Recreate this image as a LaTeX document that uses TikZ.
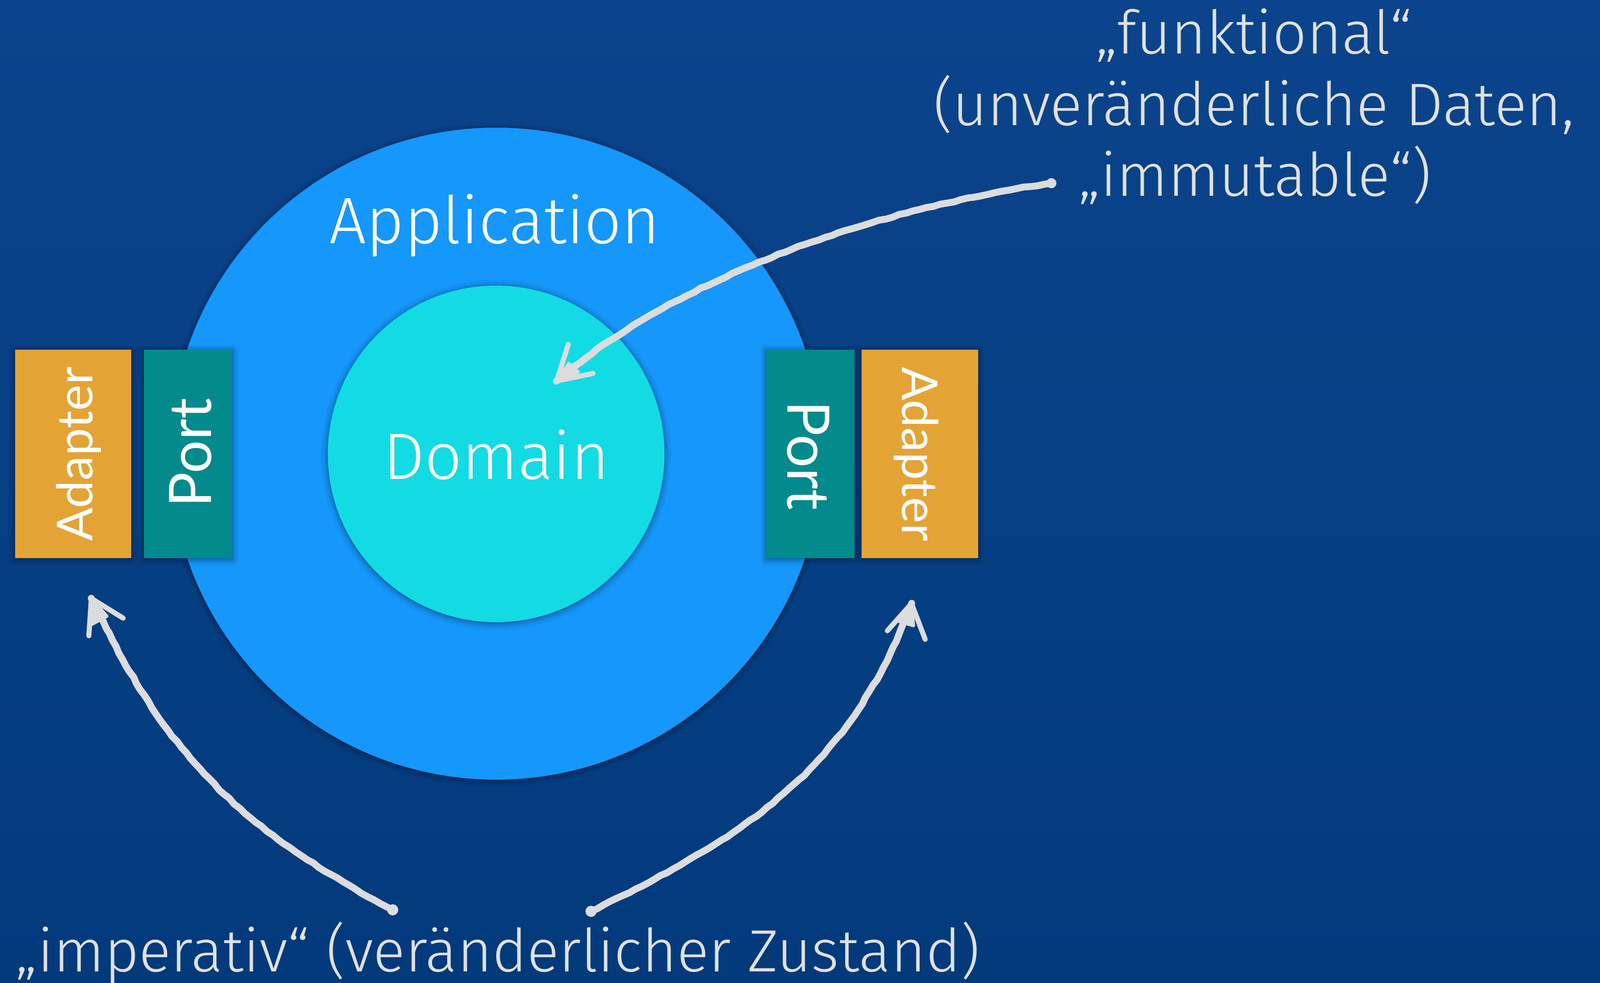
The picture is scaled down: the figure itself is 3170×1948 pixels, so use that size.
\documentclass[tikz,border=0pt]{standalone}
\usepackage{fontspec}
\setmainfont{Fira Sans Light}
\newfontfamily\labelfont{Lato}
\usetikzlibrary{shadows.blur,decorations.pathmorphing}
\definecolor{bgtop}{HTML}{0B448C}
\definecolor{bgbot}{HTML}{023A7C}
\definecolor{appblue}{HTML}{1597FB}
\definecolor{domcyan}{HTML}{13DBE3}
\definecolor{adaptorange}{HTML}{E4A335}
\definecolor{portteal}{HTML}{038A8D}
\definecolor{annogray}{HTML}{E0E0E2}
\definecolor{arrowgray}{HTML}{DCDCDE}
\tikzset{
  softshadow/.style={blur shadow={shadow xshift=0pt, shadow yshift=-1pt, shadow blur radius=6pt, shadow opacity=50}},
  ring/.style={circle, inner sep=0pt, softshadow},
  box/.style={rectangle, inner sep=0pt, minimum height=206.5pt, softshadow},
  whitetext/.style={text=white, inner sep=0pt},
  bigtext/.style={whitetext, font=\fontsize{65pt}{78pt}\selectfont, anchor=base},
  adaptertext/.style={whitetext, font=\labelfont\fontsize{49pt}{59pt}\selectfont, anchor=base},
  porttext/.style={whitetext, font=\labelfont\fontsize{58pt}{70pt}\selectfont, anchor=base},
  annotext/.style={text=annogray, inner sep=0pt, anchor=base, font=\fontsize{59.5pt}{71pt}\selectfont},
  handline/.style={draw=arrowgray, line width=6.8pt, line cap=round, line join=round,
    decorate, decoration={random steps, segment length=7pt, amplitude=0.6pt}},
  barbline/.style={draw=arrowgray, line width=5pt, line cap=round, line join=round},
  wedge/.style={fill=arrowgray, draw=arrowgray, line width=3pt, line join=round}
}
\begin{document}
\begin{tikzpicture}[x=0.5pt,y=-0.5pt]
\useasboundingbox (0,0) rectangle (3170,1948);
\shade[top color=bgtop, bottom color=bgbot] (0,0) rectangle (3170,1948);

% circles
\node[ring, fill=appblue, minimum size=646pt] (app) at (983,899) {};
\node[ring, fill=domcyan, minimum size=333.5pt] (dom) at (983,899.5) {};

% boxes
\node[box, fill=adaptorange, minimum width=115pt] (ladapter) at (145,899.5) {};
\node[box, fill=portteal, minimum width=87.5pt] (lport) at (372.5,899.5) {};
\node[box, fill=portteal, minimum width=87.5pt] (rport) at (1605.5,899.5) {};
\node[box, fill=adaptorange, minimum width=115.5pt] (radapter) at (1822.5,899.5) {};

% labels
\node[bigtext] (applbl) at (980,482) {Application};
\node[bigtext] (domlbl) at (983,949) {Domain};
\node[adaptertext, rotate=90] (ladlbl) at (183,900) {Adapter};
\node[porttext, rotate=90] (lportlbl) at (418,897) {Port};
\node[porttext, rotate=-90] (rportlbl) at (1560,903) {Port};
\node[adaptertext, rotate=-90] (radlbl) at (1787,900) {Adapter};

% annotations
\node[annotext] (fun1) at (2484,107) {„funktional“};
\node[annotext] (fun2) at (2484,248) {(unveränderliche Daten,};
\node[annotext] (fun3) at (2486,388) {„immutable“)};
\node[annotext, font=\fontsize{59pt}{71pt}\selectfont] (imp) at (986,1925) {„imperativ“ (veränderlicher Zustand)};

% arrow: funktional -> Domain
\coordinate (fS) at (2083,363);
\coordinate (fT) at (1103,755);
\coordinate (fB1) at (1126,682);
\coordinate (fB2) at (1175,740);
\coordinate (fW1) at (1127,720);
\coordinate (fW2) at (1146,737);
\draw[handline] (fS) .. controls (1700,420) and (1330,560) .. (fT);
\draw[barbline] (fB1) -- (fT) -- (fB2);
\filldraw[wedge] (fT) -- (fW1) -- (fW2) -- cycle;
\fill[arrowgray] (fS) circle[radius=5pt];

% arrow: imperativ -> left adapter
\coordinate (lS) at (778,1803);
\coordinate (lT) at (181,1186);
\coordinate (lB1) at (176,1260);
\coordinate (lB2) at (244,1225);
\coordinate (lW1) at (181,1238);
\coordinate (lW2) at (212,1221);
\draw[handline] (lS) .. controls (470,1638.5) and (331.5,1499) .. (lT);
\draw[barbline] (lB1) -- (lT) -- (lB2);
\filldraw[wedge] (lT) -- (lW1) -- (lW2) -- cycle;
\fill[arrowgray] (lS) circle[radius=5.5pt];

% arrow: imperativ -> right adapter
\coordinate (rS) at (1171,1806);
\coordinate (rT) at (1806,1196);
\coordinate (rB1) at (1758,1250);
\coordinate (rB2) at (1833,1267);
\coordinate (rW1) at (1782,1232);
\coordinate (rW2) at (1810,1240);
\draw[handline] (rS) .. controls (1486,1652) and (1682.5,1524) .. (rT);
\draw[barbline] (rB1) -- (rT) -- (rB2);
\filldraw[wedge] (rT) -- (rW1) -- (rW2) -- cycle;
\fill[arrowgray] (rS) circle[radius=5.5pt];
\end{tikzpicture}
\end{document}
